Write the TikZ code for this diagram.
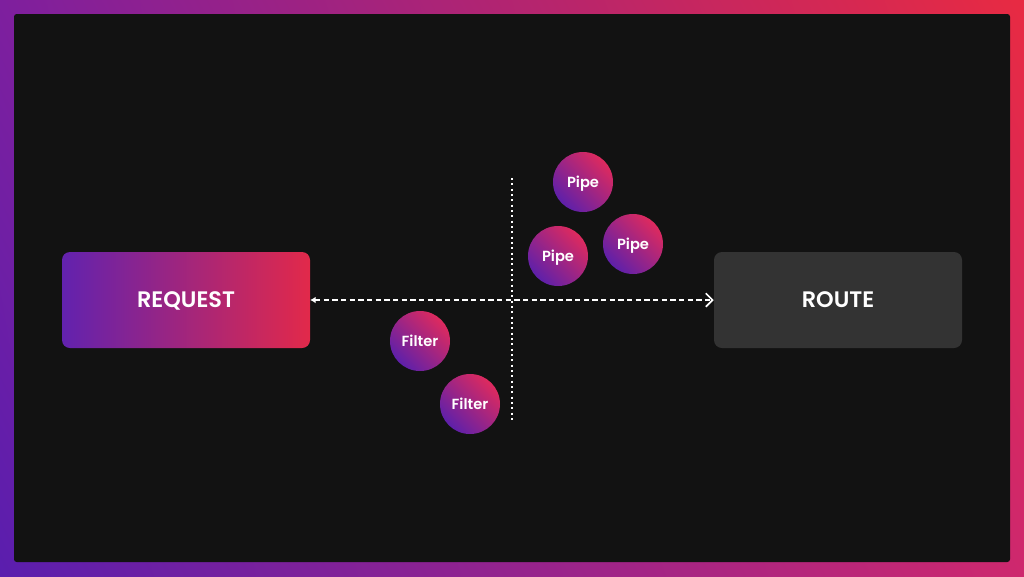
\documentclass[tikz,border=0pt]{standalone}
\usepackage{fontspec}
\setmainfont{Poppins}[BoldFont={Poppins SemiBold}]
\usetikzlibrary{arrows.meta,shadings}

\definecolor{bgdark}{HTML}{121212}
\definecolor{routegray}{HTML}{333333}
\definecolor{edgeLL}{HTML}{5A1EAE}
\definecolor{edgeUL}{HTML}{7E1F9E}
\definecolor{edgeUR}{HTML}{E82A42}
\definecolor{edgeLR}{HTML}{CE286E}
\definecolor{reqpurple}{HTML}{6222AE}
\definecolor{reqred}{HTML}{E2294A}
\definecolor{ballpurple}{HTML}{5E20AA}
\definecolor{ballred}{HTML}{DE2A5E}

\begin{document}
\begin{tikzpicture}[x=0.75pt,y=0.75pt,yscale=-1,
  bigbox/.style={rounded corners=6pt,minimum width=186pt,minimum height=72pt,text depth=0pt,text=white,font=\bfseries\fontsize{16.8}{19}\selectfont},
  ball/.style={circle,minimum size=45pt,inner sep=0pt,text depth=0pt,text=white,font=\bfseries\fontsize{11}{13}\selectfont,
    left color=ballpurple,right color=ballred,shading angle=135},
  flow/.style={white,line width=1.1pt,dash pattern=on 4pt off 2.5pt},
  guide/.style={white,line width=1.2pt,dash pattern=on 1.4pt off 2.6pt}]
%set diagram left start at 0, and has height of 576
\useasboundingbox (0,0) rectangle (1024,576);

%Shape: Frame [id:frame]
\shade[lower left=edgeLL,upper left=edgeUL,upper right=edgeUR,lower right=edgeLR] (0,0) rectangle (1024,576);
\fill[bgdark,rounded corners=2pt] (14,14) rectangle (1010,562);

%Shape: Boxes
\node[bigbox,left color=reqpurple,right color=reqred] (req) at (186,300) {REQUEST};
\node[bigbox,fill=routegray] (route) at (838,300) {ROUTE};

%Shape: Circles
\node[ball] (pipeA) at (583,182) {Pipe};
\node[ball] (pipeB) at (558,256) {Pipe};
\node[ball] (pipeC) at (633,244) {Pipe};
\node[ball] (filterA) at (420,341) {Filter};
\node[ball] (filterB) at (470,404) {Filter};

%Dashed Lines
\coordinate (vtop) at (512,178);
\coordinate (vbot) at (512,422);
\draw[guide] (vtop) -- (vbot);
\draw[flow,{Latex[length=4pt,width=5pt]}-{Straight Barb[length=5pt,width=10pt,line width=1.3pt]}] (req.east) -- (route.west);

\end{tikzpicture}
\end{document}
